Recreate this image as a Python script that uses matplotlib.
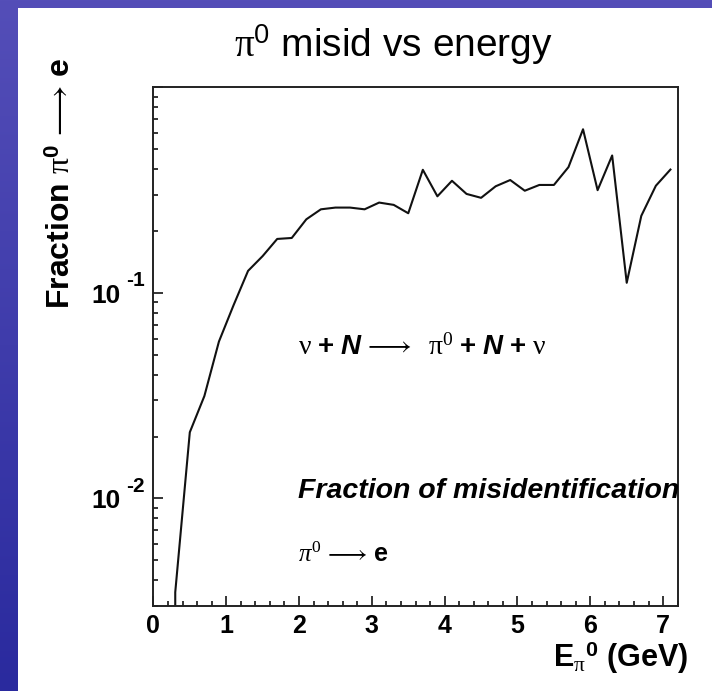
import numpy as np
import matplotlib
matplotlib.use("Agg")
import matplotlib.pyplot as plt
from matplotlib.ticker import MultipleLocator, LogLocator, NullFormatter
import matplotlib.patches as patches

plt.rcParams['font.family'] = ['Liberation Sans', 'DejaVu Sans']
plt.rcParams['mathtext.fontset'] = 'custom'
plt.rcParams['mathtext.rm'] = 'Liberation Serif'
plt.rcParams['mathtext.it'] = 'Liberation Serif:italic'
plt.rcParams['mathtext.bf'] = 'Liberation Sans:bold'
plt.rcParams['mathtext.bfit'] = 'Liberation Sans:bold:italic'
plt.rcParams['mathtext.sf'] = 'Liberation Sans'

# --- data: pi0 -> e misidentification fraction vs energy (bin centres, GeV) ---
energy = [0.1, 0.3, 0.5, 0.7, 0.9, 1.1, 1.3, 1.5, 1.7, 1.9, 2.1, 2.3,
          2.5, 2.7, 2.9, 3.1, 3.3, 3.5, 3.7, 3.9, 4.1, 4.3, 4.5, 4.7,
          4.9, 5.1, 5.3, 5.5, 5.7, 5.9, 6.1, 6.3, 6.5, 6.7, 6.9, 7.1]
fraction = [0.0, 0.0035, 0.021, 0.0315, 0.058, 0.087, 0.128, 0.151, 0.183, 0.185, 0.228, 0.255,
            0.26, 0.26, 0.255, 0.275, 0.268, 0.244, 0.397, 0.295, 0.351, 0.303, 0.29, 0.33,
            0.354, 0.314, 0.335, 0.335, 0.409, 0.625, 0.316, 0.466, 0.112, 0.237, 0.332, 0.398]
x_ticks = [0, 1, 2, 3, 4, 5, 6, 7]
y_decades = [1e-2, 1e-1]
y_decade_labels = ["-2", "-1"]

W, H = 712, 691
fig = plt.figure(figsize=(W / 100, H / 100), dpi=100)

# slide background: blue gradient + white panel
bg = fig.add_axes([0, 0, 1, 1], zorder=-10)
grad = np.linspace(0, 1, 256)[:, None]
top = np.array([84, 78, 184]) / 255
bot = np.array([42, 42, 158]) / 255
img = top[None, None, :] * (1 - grad[:, :, None]) + bot[None, None, :] * grad[:, :, None]
bg.imshow(img, aspect='auto', extent=[0, 1, 0, 1])
bg.add_patch(patches.Rectangle((18 / W, 0), 1, 1 - 8 / H, facecolor='white', edgecolor='none'))
bg.set_xlim(0, 1); bg.set_ylim(0, 1)
bg.axis('off')

ax = fig.add_axes([153.4 / W, 85 / H, 524.3 / W, 518.7 / H])
ax.plot(energy, fraction, color='#111111', linewidth=1.5)
ax.set_yscale('log', nonpositive='clip')
ax.set_xlim(0, 7.2)
ax.set_ylim(0.003, 1)

ax.xaxis.set_major_locator(MultipleLocator(1))
ax.xaxis.set_minor_locator(MultipleLocator(0.2))
ax.yaxis.set_major_locator(LogLocator(base=10))
ax.yaxis.set_minor_locator(LogLocator(base=10, subs=np.arange(2, 10)))
ax.yaxis.set_minor_formatter(NullFormatter())
ax.set_yticklabels([])
ax.set_xticks(x_ticks)
ax.set_xticklabels([str(t) for t in x_ticks], fontsize=18, fontweight='bold')
ax.tick_params(which='major', direction='in', length=7.5, width=1.1, top=False, right=False, pad=6)
ax.tick_params(which='minor', direction='in', length=3.8, width=1.1, top=False, right=False)
for s in ax.spines.values():
    s.set_linewidth(1.4)
    s.set_color('#222222')

# y tick labels in ROOT style "10 -1"
ylab_tr = matplotlib.transforms.blended_transform_factory(fig.transFigure, ax.transData)
off = matplotlib.transforms.offset_copy
for val, exp in zip(y_decades, y_decade_labels):
    ax.text(121 / W, val, "10", transform=off(ylab_tr, fig=fig, y=-3, units='dots'),
            ha='right', va='center', fontsize=19, fontweight='bold')
    ax.text(126 / W, val, exp, transform=off(ylab_tr, fig=fig, y=12, units='dots'),
            ha='left', va='center', fontsize=15, fontweight='bold')

fig.text(393 / W, 1 - 45 / H, r'$\mathrm{\pi}^{\mathsf{0}}$ misid vs energy', ha='center', va='center',
         fontsize=28)
fig.text(62 / W, 1 - 58 / H, r'Fraction $\mathrm{\pi}^{\mathbf{0}}\,\mathrm{\longrightarrow}\,$e', rotation=90,
         ha='center', va='top', fontsize=23, fontweight='bold')
fig.text(688 / W, 1 - 658 / H, r'$\mathbf{E}_{\mathrm{\pi}}{}^{\mathbf{0}}$ (GeV)', ha='right', va='center',
         fontsize=22, fontweight='bold')

ax.text(0.276, 0.499,
        r'$\mathrm{\nu}\ \mathbf{+}\ \mathbfit{N}\,\mathrm{\longrightarrow}\ \ \mathrm{\pi}^{\mathit{0}}\ \mathbf{+}\ \mathbfit{N}\ \mathbf{+}\ \mathrm{\nu}$',
        transform=ax.transAxes, ha='left', va='center', fontsize=20)
ax.text(0.276, 0.222, 'Fraction of misidentification', transform=ax.transAxes, ha='left', va='center',
        fontsize=20.5, fontweight='bold', fontstyle='italic')
ax.text(0.276, 0.098, r'$\pi^{0}\,\mathrm{\longrightarrow}\,\mathbf{e}$', transform=ax.transAxes,
        ha='left', va='center', fontsize=18)

fig.savefig('out.png', dpi=100)
